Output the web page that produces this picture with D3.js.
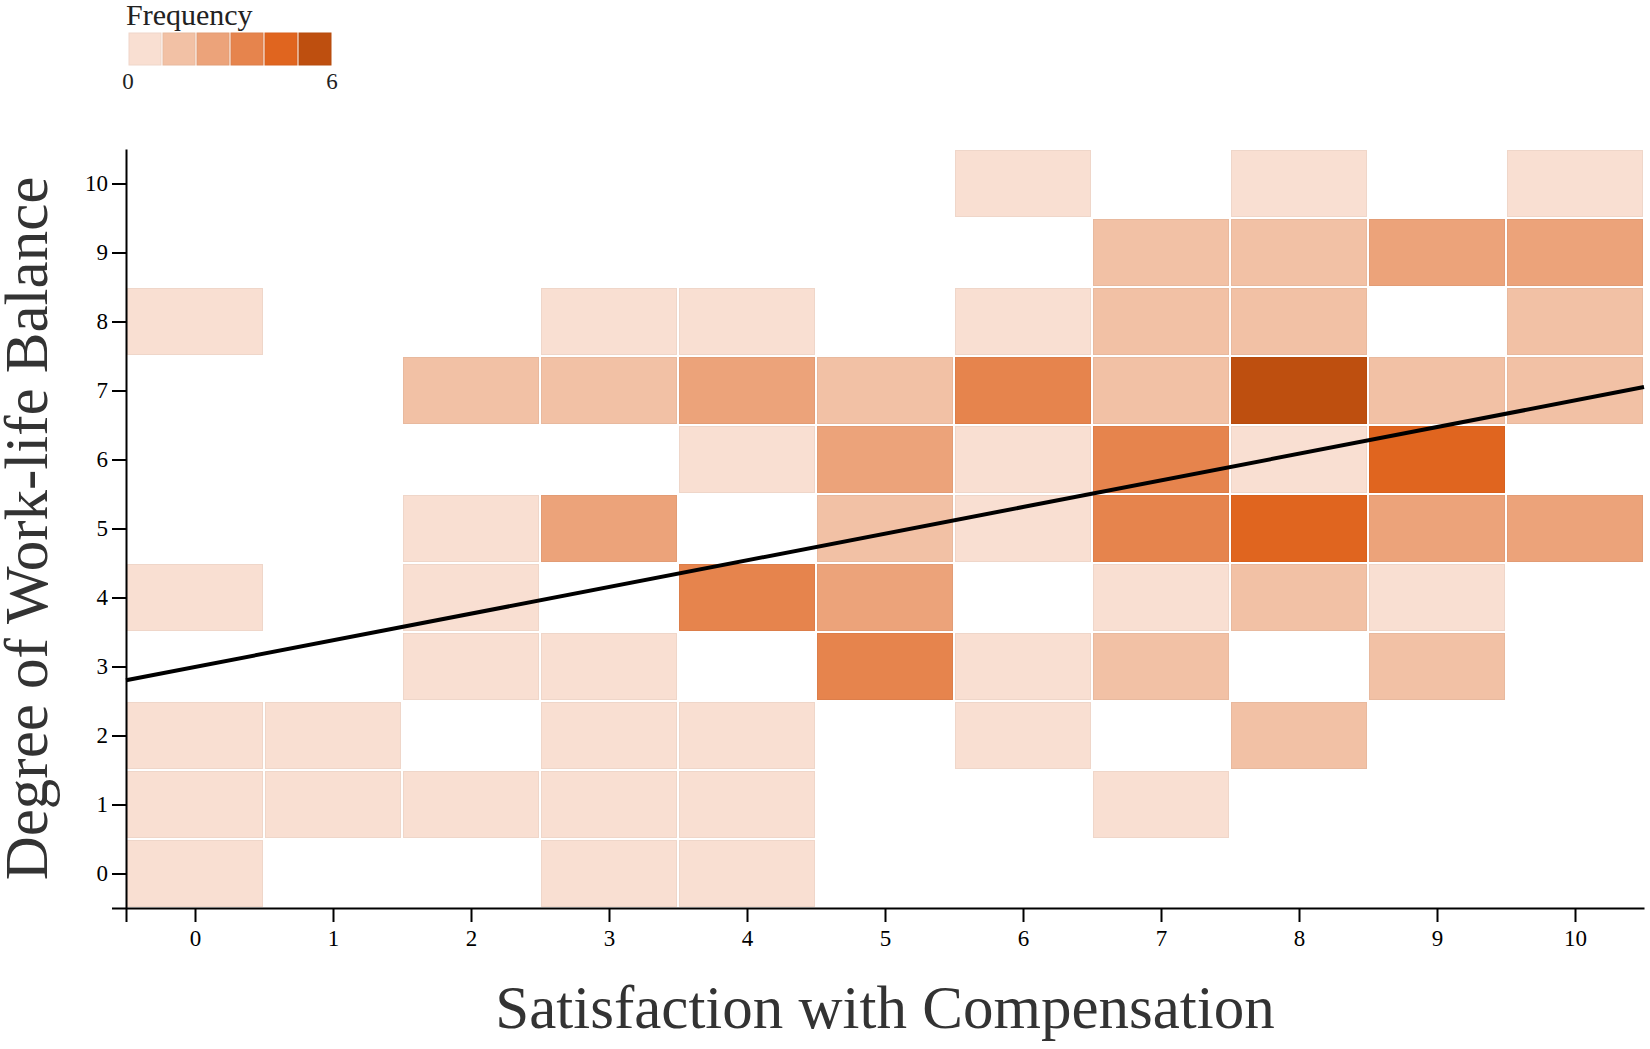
<!DOCTYPE html>
<html>
<head>
<meta charset="utf-8">
<script src="https://cdn.jsdelivr.net/npm/d3@7"></script>
<style>
  body { margin: 0; background: #fff; }
  svg text { font-family: "Liberation Serif", "Times New Roman", serif; }
</style>
</head>
<body>
<div id="chart"></div>
<script>
// cells: satisfaction with compensation (x), work-life balance (y), frequency
let satisfaction = [6, 8, 10,
  7, 8, 9, 10,
  0, 3, 4, 6, 7, 8, 10,
  2, 3, 4, 5, 6, 7, 8, 9, 10,
  4, 5, 6, 7, 8, 9,
  2, 3, 5, 6, 7, 8, 9, 10,
  0, 2, 4, 5, 7, 8, 9,
  2, 3, 5, 6, 7, 9,
  0, 1, 3, 4, 6, 8,
  0, 1, 2, 3, 4, 7,
  0, 3, 4]
let balance = [10, 10, 10,
  9, 9, 9, 9,
  8, 8, 8, 8, 8, 8, 8,
  7, 7, 7, 7, 7, 7, 7, 7, 7,
  6, 6, 6, 6, 6, 6,
  5, 5, 5, 5, 5, 5, 5, 5,
  4, 4, 4, 4, 4, 4, 4,
  3, 3, 3, 3, 3, 3,
  2, 2, 2, 2, 2, 2,
  1, 1, 1, 1, 1, 1,
  0, 0, 0]
let frequency = [1, 1, 1,
  2, 2, 3, 3,
  1, 1, 1, 1, 2, 2, 2,
  2, 2, 3, 2, 4, 2, 6, 2, 2,
  1, 3, 1, 4, 1, 5,
  1, 3, 2, 1, 4, 5, 3, 3,
  1, 1, 4, 3, 1, 2, 1,
  1, 1, 4, 1, 2, 2,
  1, 1, 1, 1, 1, 2,
  1, 1, 1, 1, 1, 1,
  1, 1, 1]

let ticks = [0, 1, 2, 3, 4, 5, 6, 7, 8, 9, 10]
let legendColors = ['#f9dfd2', '#f2c1a5', '#eca37a', '#e6844d', '#e0651f', '#be4f0f']
let legendLabels = [0, 6]

// fitted line, read at the plot edges
let trendX = [-0.5, 10.5]
let trendY = [2.80, 7.05]

let width = 1650,
    height = 1049

let margin = {
  'top' : 149,
  'right' : 6,
  'bottom' : 141,
  'left' : 126
}

let svg = d3.select('#chart').append('svg')
    .attr('width', width)
    .attr('height', height)

let x = d3.scaleLinear()
    .domain([-0.5, 10.5])
    .range([margin.left, width - margin.right])

let y = d3.scaleLinear()
    .domain([-0.5, 10.5])
    .range([height - margin.bottom, margin.top])

let color = d3.scaleQuantize()
    .domain([0, 6])
    .range(legendColors)

let cells = satisfaction.map((d, i) => ({x: d, y: balance[i], n: frequency[i]}))

// heatmap cells
svg.append('g')
    .selectAll('rect')
    .data(cells)
    .enter().append('rect')
    .attr('x', d => x(d.x - 0.5) + 1.5)
    .attr('y', d => y(d.y + 0.5) + 1.5)
    .attr('width', d => x(d.x + 0.5) - x(d.x - 0.5) - 3)
    .attr('height', d => y(d.y - 0.5) - y(d.y + 0.5) - 3)
    .attr('fill', d => color(d.n - 0.5))
    .attr('stroke', d => d3.color(color(d.n - 0.5)).darker(0.12))
    .attr('stroke-width', 1)

// trend line
let line = d3.line()
    .x(d => x(d[0]))
    .y(d => y(d[1]))

svg.append('path')
    .datum(trendX.map((d, i) => [d, trendY[i]]))
    .attr('d', line)
    .attr('fill', 'none')
    .attr('stroke', '#000')
    .attr('stroke-width', 4)

// axes (extra tick at -0.5 draws the corner stubs)
let xAxis = d3.axisBottom(x)
    .tickValues([-0.5].concat(ticks))
    .tickFormat(d => d < 0 ? '' : d)
    .tickSize(14)
    .tickSizeOuter(0)
    .tickPadding(8)

let yAxis = d3.axisLeft(y)
    .tickValues([-0.5].concat(ticks))
    .tickFormat(d => d < 0 ? '' : d)
    .tickSize(14)
    .tickSizeOuter(0)
    .tickPadding(4)

let gx = svg.append('g')
    .attr('transform', `translate(0,${height - margin.bottom})`)
    .call(xAxis)

let gy = svg.append('g')
    .attr('transform', `translate(${margin.left},0)`)
    .call(yAxis)

for (let g of [gx, gy]) {
  g.selectAll('path, line').attr('stroke', '#000').attr('stroke-width', 2)
  g.selectAll('text').attr('font-size', 23).attr('fill', '#000')
    .style('font-family', '"Liberation Serif", serif')
}

// axis titles
svg.append('text')
    .attr('x', (x.range()[0] + x.range()[1]) / 2)
    .attr('y', 1028)
    .attr('text-anchor', 'middle')
    .attr('font-size', 61)
    .attr('fill', '#333')
    .text('Satisfaction with Compensation')

svg.append('text')
    .attr('transform', `translate(47,${(y.range()[0] + y.range()[1]) / 2}) rotate(-90)`)
    .attr('text-anchor', 'middle')
    .attr('font-size', 61)
    .attr('fill', '#333')
    .text('Degree of Work-life Balance')

// legend
let legendX = d3.scaleLinear()
    .domain([0, 6])
    .range([128, 332])

let legend = svg.append('g')

legend.append('text')
    .attr('x', 126)
    .attr('y', 25)
    .attr('font-size', 30)
    .attr('fill', '#222')
    .text('Frequency')

legend.selectAll('rect')
    .data(legendColors)
    .enter().append('rect')
    .attr('x', (d, i) => legendX(i) + 1)
    .attr('y', 33)
    .attr('width', (d, i) => legendX(i + 1) - legendX(i) - 2)
    .attr('height', 32)
    .attr('fill', d => d)
    .attr('stroke', d => d3.color(d).darker(0.12))
    .attr('stroke-width', 1)

legend.selectAll('.legend-label')
    .data(legendLabels)
    .enter().append('text')
    .attr('class', 'legend-label')
    .attr('x', d => legendX(d))
    .attr('y', 89)
    .attr('text-anchor', 'middle')
    .attr('font-size', 23)
    .attr('fill', '#222')
    .text(d => d)
</script>
</body>
</html>
